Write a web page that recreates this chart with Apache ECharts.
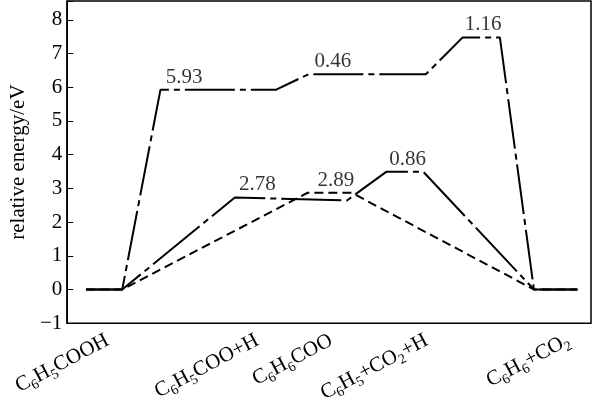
<!DOCTYPE html>
<html>
<head>
<meta charset="utf-8">
<script src="https://cdn.jsdelivr.net/npm/echarts@6/dist/echarts.min.js"></script>
<style>
  html, body { margin: 0; padding: 0; background: #fff; }
</style>
</head>
<body>
<div id="main" style="width:593px;height:408px;"></div>
<script>
// reaction coordinate (0-100) of each corner of the energy paths
const pathAX = [3.6, 10.5, 17.8, 39.9, 46.1, 68.5, 75.5, 82.6, 89.1, 97.4]
const pathAY = [0, 0, 5.93, 5.93, 6.39, 6.39, 7.48, 7.48, 0, 0]
const pathBX = [3.6, 10.5, 32.0, 53.4, 60.9, 68.0, 89.1, 97.4]
const pathBY = [0, 0, 2.73, 2.64, 3.49, 3.49, 0, 0]
const pathCX = [3.6, 10.5, 45.9, 54.3, 89.1, 97.4]
const pathCY = [0, 0, 2.87, 2.87, 0, 0]

// barrier labels
const annoX = [22.3, 50.7, 79.4, 36.3, 51.3, 65.0]
const annoY = [5.93, 6.39, 7.48, 2.73, 2.87, 3.49]
const annoText = ['5.93', '0.46', '1.16', '2.78', '2.89', '0.86']

// species along the bottom (_n = subscript)
const stateX = [7.7, 36.3, 50.4, 68.6, 95.7]
const stateNames = ['C_6H_5COOH', 'C_6H_5COO+H', 'C_6H_6COO', 'C_6H_5+CO_2+H', 'C_6H_6+CO_2']

const yTicks = [-1, 0, 1, 2, 3, 4, 5, 6, 7, 8]

const FONT = '"Liberation Serif", "Times New Roman", serif'

const zip = (xs, ys) => xs.map((x, i) => [x, ys[i]])

// 'C_6H_5' -> rich text with subscripts
const toRich = (s) => {
  let out = ''
  for (let i = 0; i < s.length; i++) {
    if (s[i] === '_') {
      out += '{s|' + s[i + 1] + '}'
      i++
    } else {
      out += '{n|' + s[i] + '}'
    }
  }
  return out
}

var myChart = echarts.init(document.getElementById('main'))

var option = {
  animation: false,
  grid: {
    left: 57,
    top: 1,
    right: 2,
    bottom: 83,
    show: true,
    borderColor: '#000',
    borderWidth: 1.5,
    backgroundColor: 'transparent'
  },
  xAxis: {
    type: 'value',
    min: 0,
    max: 100,
    axisLine: { show: false },
    axisTick: { show: false },
    splitLine: { show: false },
    axisLabel: {
      customValues: stateX,
      rotate: 28,
      margin: 16,
      color: '#000',
      formatter: (v) => {
        const i = stateX.indexOf(v)
        return i < 0 ? '' : toRich(stateNames[i])
      },
      rich: {
        n: { fontFamily: FONT, fontSize: 21, color: '#000', lineHeight: 21, verticalAlign: 'top' },
        s: { fontFamily: FONT, fontSize: 14, color: '#000', lineHeight: 14, verticalAlign: 'top', padding: [10, 0, 0, 0] }
      }
    }
  },
  yAxis: {
    type: 'value',
    min: -1,
    max: 8.56,
    interval: 1,
    name: 'relative energy/eV',
    nameLocation: 'middle',
    nameGap: 38,
    nameTextStyle: { fontFamily: FONT, fontSize: 21, color: '#000' },
    axisLine: { show: true, lineStyle: { color: '#000', width: 1.5 } },
    axisTick: { show: true, inside: true, length: 6, lineStyle: { color: '#000', width: 1 } },
    splitLine: { show: false },
    axisLabel: {
      margin: 5,
      fontFamily: FONT,
      fontSize: 21,
      color: '#000',
      formatter: (v) => {
        if (yTicks.indexOf(v) < 0) return ''
        return v < 0 ? '\u2212' + Math.abs(v) : String(v)
      }
    }
  },
  series: [
    {
      type: 'line',
      data: zip(pathAX, pathAY),
      symbol: 'none',
      lineStyle: { color: '#000', width: 2, type: [50, 5, 6, 5] }
    },
    {
      type: 'line',
      data: zip(pathBX, pathBY),
      symbol: 'none',
      lineStyle: { color: '#000', width: 2, type: [60, 5, 6, 5] }
    },
    {
      type: 'line',
      data: zip(pathCX, pathCY),
      symbol: 'none',
      lineStyle: { color: '#000', width: 2, type: [9, 5] }
    },
    {
      type: 'scatter',
      data: zip(annoX, annoY),
      symbolSize: 0,
      label: {
        show: true,
        position: 'top',
        distance: 2,
        fontFamily: FONT,
        fontSize: 21,
        color: '#000',
        formatter: (p) => annoText[p.dataIndex]
      }
    }
  ]
}

myChart.setOption(option)
window.addEventListener('resize', () => {
  myChart.resize()
})
</script>
</body>
</html>
